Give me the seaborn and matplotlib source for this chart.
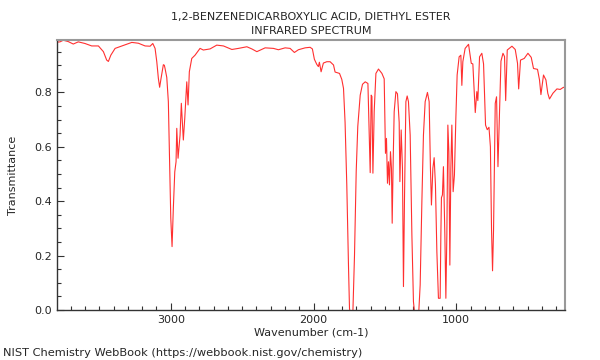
import pandas as pd
import matplotlib
matplotlib.use("Agg")
import matplotlib.pyplot as plt
from matplotlib.ticker import MultipleLocator
import seaborn as sns

# wavenumber (cm-1) and transmittance
wavenumber = [
    3797, 3776, 3753, 3718, 3683, 3648, 3601, 3554, 3507, 3472, 3449, 3437, 3420, 3390,
    3343, 3273, 3227, 3180, 3145, 3126, 3110, 3098, 3087, 3078, 3068, 3052, 3045, 3040,
    3028, 3017, 3010, 3000, 2991, 2982, 2972, 2963, 2958, 2949, 2935, 2926, 2912, 2902,
    2888, 2879, 2870, 2853, 2830, 2795, 2772, 2725, 2678, 2631, 2572, 2526, 2467, 2432,
    2397, 2339, 2281, 2246, 2199, 2164, 2134, 2106, 2059, 2024, 2008, 1994, 1977, 1966,
    1959, 1947, 1931, 1907, 1884, 1860, 1849, 1818, 1802, 1790, 1779, 1767, 1755, 1748,
    1740, 1725, 1713, 1701, 1690, 1673, 1657, 1638, 1619, 1608, 1603, 1596, 1591, 1584,
    1575, 1563, 1545, 1521, 1505, 1496, 1489, 1482, 1475, 1468, 1461, 1454, 1449, 1442,
    1435, 1423, 1412, 1400, 1395, 1386, 1377, 1370, 1363, 1353, 1344, 1335, 1323, 1311,
    1300, 1288, 1265, 1253, 1241, 1230, 1218, 1202, 1190, 1181, 1174, 1164, 1155, 1146,
    1136, 1125, 1113, 1108, 1104, 1097, 1090, 1080, 1073, 1066, 1059, 1052, 1045, 1038,
    1031, 1022, 1013, 1003, 994, 980, 968, 961, 954, 938, 914, 895, 884, 867,
    856, 849, 837, 821, 809, 795, 783, 771, 761, 753, 746, 739, 727, 718,
    708, 699, 687, 673, 662, 654, 643, 610, 587, 571, 563, 550, 524, 498,
    475, 459, 431, 417, 407, 389, 372, 359, 347, 323, 295, 272, 249, 237,
]
transmittance = [
    0.985, 0.986, 0.992, 0.987, 0.978, 0.986, 0.980, 0.971, 0.971, 0.950, 0.919, 0.914, 0.937, 0.962,
    0.971, 0.984, 0.981, 0.971, 0.970, 0.980, 0.962, 0.913, 0.852, 0.819, 0.852, 0.902, 0.900, 0.888,
    0.855, 0.766, 0.582, 0.338, 0.233, 0.375, 0.508, 0.545, 0.668, 0.558, 0.643, 0.760, 0.625, 0.705,
    0.839, 0.754, 0.876, 0.925, 0.937, 0.962, 0.956, 0.960, 0.974, 0.971, 0.958, 0.962, 0.968, 0.960,
    0.950, 0.964, 0.962, 0.957, 0.964, 0.962, 0.947, 0.957, 0.964, 0.966, 0.960, 0.922, 0.903, 0.895,
    0.911, 0.876, 0.908, 0.913, 0.913, 0.901, 0.875, 0.870, 0.848, 0.815, 0.690, 0.460, 0.160, 0.005,
    -0.02, -0.02, 0.200, 0.510, 0.675, 0.790, 0.830, 0.839, 0.833, 0.600, 0.505, 0.790, 0.785, 0.503,
    0.730, 0.870, 0.886, 0.870, 0.850, 0.576, 0.631, 0.466, 0.545, 0.460, 0.582, 0.520, 0.319, 0.550,
    0.729, 0.803, 0.795, 0.690, 0.472, 0.662, 0.521, 0.086, 0.400, 0.766, 0.787, 0.766, 0.643, 0.276,
    0.030, -0.03, -0.03, 0.092, 0.398, 0.643, 0.766, 0.800, 0.766, 0.521, 0.386, 0.521, 0.560, 0.460,
    0.214, 0.043, 0.043, 0.276, 0.413, 0.423, 0.527, 0.276, 0.043, 0.276, 0.680, 0.582, 0.165, 0.520,
    0.680, 0.435, 0.496, 0.705, 0.864, 0.931, 0.937, 0.826, 0.913, 0.962, 0.977, 0.907, 0.905, 0.726,
    0.803, 0.770, 0.931, 0.944, 0.905, 0.680, 0.663, 0.672, 0.600, 0.294, 0.144, 0.294, 0.760, 0.784,
    0.527, 0.699, 0.915, 0.944, 0.932, 0.770, 0.956, 0.970, 0.958, 0.907, 0.813, 0.919, 0.925, 0.944,
    0.929, 0.888, 0.885, 0.846, 0.792, 0.864, 0.846, 0.797, 0.776, 0.797, 0.813, 0.811, 0.819, 0.816,
]

title_lines = ["1,2-BENZENEDICARBOXYLIC ACID, DIETHYL ESTER", "INFRARED SPECTRUM"]
x_ticks = [3000, 2000, 1000]
y_ticks = [0.0, 0.2, 0.4, 0.6, 0.8]

df = pd.DataFrame({"Wavenumber": wavenumber, "Transmittance": transmittance})

sns.set_style("white")
plt.rcParams["font.family"] = ["DejaVu Sans"]

fig = plt.figure(figsize=(6, 3.6), dpi=100)
ax = fig.add_axes([0.095, 0.139, 0.847, 0.75])

sns.lineplot(data=df, x="Wavenumber", y="Transmittance", ax=ax, color="#ff3030",
             linewidth=0.8, sort=False, estimator=None)

ax.set_xlim(3797, 237)
ax.set_ylim(0, 0.993)
ax.set_xticks(x_ticks)
ax.set_yticks(y_ticks)
ax.xaxis.set_minor_locator(MultipleLocator(100))
ax.yaxis.set_minor_locator(MultipleLocator(0.05))
ax.tick_params(axis="both", which="both", direction="in", labelsize=8, color="#333333",
               bottom=True, left=True, top=False, right=False)
ax.tick_params(axis="both", which="major", length=5, width=0.8)
ax.tick_params(axis="both", which="minor", length=3, width=0.8)

for side in ["left", "bottom"]:
    ax.spines[side].set_color("#333333")
    ax.spines[side].set_linewidth(1.0)
for side in ["top", "right"]:
    ax.spines[side].set_color("#999999")
    ax.spines[side].set_linewidth(1.5)

ax.set_xlabel("Wavenumber (cm-1)", fontsize=8, labelpad=2)
ax.set_ylabel("Transmittance", fontsize=8, labelpad=12)
ax.set_title("\n".join(title_lines), fontsize=8, pad=4, linespacing=1.6)

fig.text(0.005, 0.012, "NIST Chemistry WebBook (https://webbook.nist.gov/chemistry)", fontsize=8.2)

fig.savefig("out.png", dpi=100)
plt.close(fig)
